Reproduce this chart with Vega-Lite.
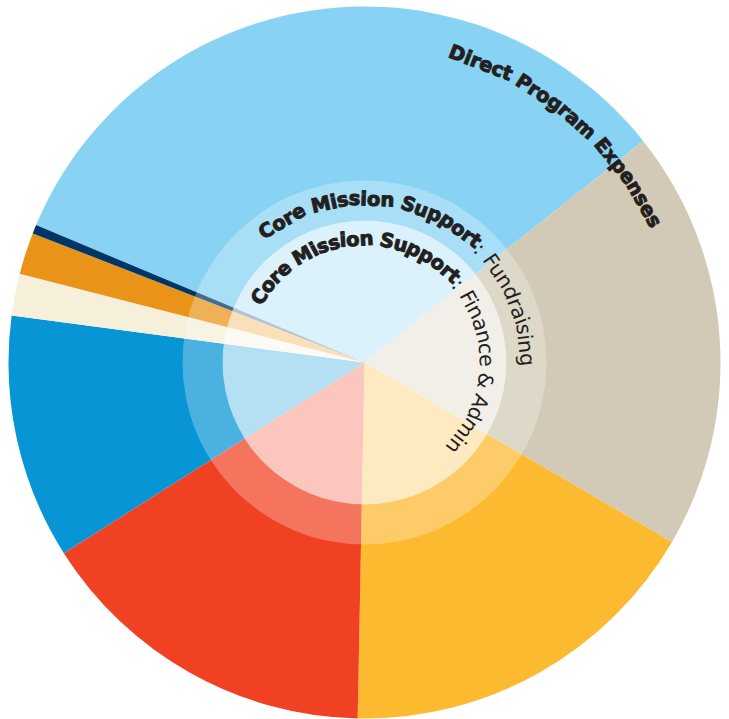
{
  "$schema": "https://vega.github.io/schema/vega-lite/v6.json",
  "width": 729,
  "height": 713,
  "autosize": "none",
  "padding": {"left": 0, "right": 0, "top": 6, "bottom": 0},
  "background": "white",
  "config": {"view": {"stroke": null}},
  "datasets": {
    "slices": [
      {"idx": 1, "category": "Direct Program Expenses", "share": 33.0},
      {"idx": 2, "category": "Core Mission Support: Fundraising", "share": 19.1},
      {"idx": 3, "category": "Core Mission Support: Finance & Admin", "share": 16.9},
      {"idx": 4, "category": "Category D", "share": 15.7},
      {"idx": 5, "category": "Category E", "share": 11.1},
      {"idx": 6, "category": "Category F", "share": 1.9},
      {"idx": 7, "category": "Category G", "share": 1.9},
      {"idx": 8, "category": "Category H", "share": 0.4}
    ],
    "labels": [
      {"ring": "outer", "style": "bold", "t": "Direct", "deg": 21.2},
      {"ring": "outer", "style": "bold", "t": "Prog", "deg": 32.94},
      {"ring": "outer", "style": "bold", "t": "ram", "deg": 41.36},
      {"ring": "outer", "style": "bold", "t": "Expe", "deg": 51.19},
      {"ring": "outer", "style": "bold", "t": "nses", "deg": 60.45},
      {"ring": "middle", "style": "bold", "t": "Core", "deg": -30.26},
      {"ring": "middle", "style": "bold", "t": "Mis", "deg": -12.26},
      {"ring": "middle", "style": "bold", "t": "sion", "deg": 2.47},
      {"ring": "middle", "style": "bold", "t": "Sup", "deg": 20.34},
      {"ring": "middle", "style": "bold", "t": "port", "deg": 35.93},
      {"ring": "middle", "style": "light", "t": ":", "deg": 45.33},
      {"ring": "middle", "style": "light", "t": "Fun", "deg": 55.54},
      {"ring": "middle", "style": "light", "t": "drai", "deg": 69.24},
      {"ring": "middle", "style": "light", "t": "sing", "deg": 83.74},
      {"ring": "inner", "style": "bold", "t": "Co", "deg": -54.88},
      {"ring": "inner", "style": "bold", "t": "re", "deg": -43.10},
      {"ring": "inner", "style": "bold", "t": "Mi", "deg": -28.55},
      {"ring": "inner", "style": "bold", "t": "ss", "deg": -17.08},
      {"ring": "inner", "style": "bold", "t": "ion", "deg": -3.76},
      {"ring": "inner", "style": "bold", "t": "Su", "deg": 13.81},
      {"ring": "inner", "style": "bold", "t": "pp", "deg": 26.82},
      {"ring": "inner", "style": "bold", "t": "ort", "deg": 40.86},
      {"ring": "inner", "style": "light", "t": ":", "deg": 50.0},
      {"ring": "inner", "style": "light", "t": "Fin", "deg": 61.74},
      {"ring": "inner", "style": "light", "t": "an", "deg": 74.79},
      {"ring": "inner", "style": "light", "t": "ce", "deg": 86.3},
      {"ring": "inner", "style": "light", "t": "&", "deg": 98.63},
      {"ring": "inner", "style": "light", "t": "Ad", "deg": 111.69},
      {"ring": "inner", "style": "light", "t": "min", "deg": 126.99}
    ]
  },
  "layer": [
    {
      "data": {"name": "slices"},
      "mark": {"type": "arc", "radius": 356},
      "encoding": {
        "theta": {"field": "share", "type": "quantitative", "stack": true, "scale": {"range": [-1.1746, 5.1086]}},
        "order": {"field": "idx", "type": "quantitative"},
        "color": {
          "field": "category",
          "type": "nominal",
          "legend": null,
          "scale": {
            "domain": ["Direct Program Expenses", "Core Mission Support: Fundraising", "Core Mission Support: Finance & Admin", "Category D", "Category E", "Category F", "Category G", "Category H"],
            "range": ["#88D3F4", "#D2CAB6", "#FCBA30", "#F04123", "#0795D6", "#F6EFDA", "#E99419", "#003667"]
          }
        }
      }
    },
    {
      "data": {"values": [{"part": "ring"}]},
      "mark": {"type": "arc", "radius": 182, "radius2": 142, "theta": 0, "theta2": 6.2832, "fill": "white", "fillOpacity": 0.27},
      "encoding": {}
    },
    {
      "data": {"values": [{"part": "disc"}]},
      "mark": {"type": "arc", "radius": 142, "radius2": 0, "theta": 0, "theta2": 6.2832, "fill": "white", "fillOpacity": 0.7},
      "encoding": {}
    },
    {
      "data": {"name": "labels"},
      "transform": [{"filter": "datum.ring === 'outer' && datum.style === 'bold'"}],
      "mark": {"type": "text", "radius": 321, "font": "DejaVu Sans", "fontWeight": "bold", "fontSize": 19.5, "align": "center", "baseline": "middle", "color": "#231F20", "stroke": "#231F20", "strokeWidth": 1},
      "encoding": {
        "theta": {"field": "deg", "type": "quantitative", "scale": {"domain": [0, 360], "range": [0, 6.2832]}},
        "angle": {"field": "deg", "type": "quantitative", "scale": {"domain": [0, 360], "range": [0, 360]}},
        "text": {"field": "t"}
      }
    },
    {
      "data": {"name": "labels"},
      "transform": [{"filter": "datum.ring === 'middle' && datum.style === 'bold'"}],
      "mark": {"type": "text", "radius": 163, "font": "DejaVu Sans", "fontWeight": "bold", "fontSize": 19.5, "align": "center", "baseline": "middle", "color": "#231F20", "stroke": "#231F20", "strokeWidth": 1},
      "encoding": {
        "theta": {"field": "deg", "type": "quantitative", "scale": {"domain": [0, 360], "range": [0, 6.2832]}},
        "angle": {"field": "deg", "type": "quantitative", "scale": {"domain": [0, 360], "range": [0, 360]}},
        "text": {"field": "t"}
      }
    },
    {
      "data": {"name": "labels"},
      "transform": [{"filter": "datum.ring === 'middle' && datum.style === 'light'"}],
      "mark": {"type": "text", "radius": 161, "font": "DejaVu Sans", "fontWeight": "normal", "fontSize": 20.5, "align": "center", "baseline": "middle", "color": "#231F20"},
      "encoding": {
        "theta": {"field": "deg", "type": "quantitative", "scale": {"domain": [0, 360], "range": [0, 6.2832]}},
        "angle": {"field": "deg", "type": "quantitative", "scale": {"domain": [0, 360], "range": [0, 360]}},
        "text": {"field": "t"}
      }
    },
    {
      "data": {"name": "labels"},
      "transform": [{"filter": "datum.ring === 'inner' && datum.style === 'bold'"}],
      "mark": {"type": "text", "radius": 123, "font": "DejaVu Sans", "fontWeight": "bold", "fontSize": 19.5, "align": "center", "baseline": "middle", "color": "#231F20", "stroke": "#231F20", "strokeWidth": 1},
      "encoding": {
        "theta": {"field": "deg", "type": "quantitative", "scale": {"domain": [0, 360], "range": [0, 6.2832]}},
        "angle": {"field": "deg", "type": "quantitative", "scale": {"domain": [0, 360], "range": [0, 360]}},
        "text": {"field": "t"}
      }
    },
    {
      "data": {"name": "labels"},
      "transform": [{"filter": "datum.ring === 'inner' && datum.style === 'light'"}],
      "mark": {"type": "text", "radius": 121, "font": "DejaVu Sans", "fontWeight": "normal", "fontSize": 20.5, "align": "center", "baseline": "middle", "color": "#231F20"},
      "encoding": {
        "theta": {"field": "deg", "type": "quantitative", "scale": {"domain": [0, 360], "range": [0, 6.2832]}},
        "angle": {"field": "deg", "type": "quantitative", "scale": {"domain": [0, 360], "range": [0, 360]}},
        "text": {"field": "t"}
      }
    }
  ],
  "resolve": {"scale": {"theta": "independent"}}
}
